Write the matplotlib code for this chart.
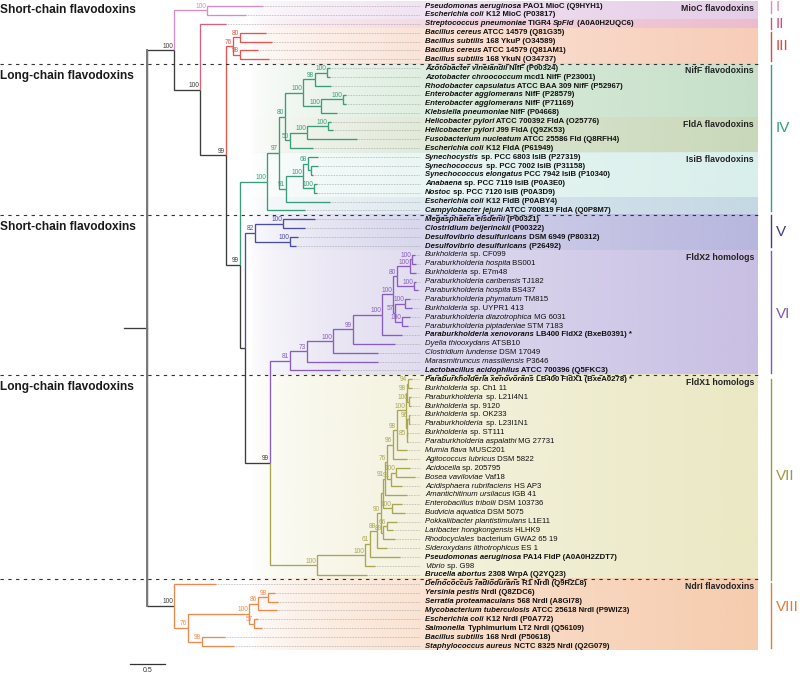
import numpy as np
import matplotlib.pyplot as plt
from matplotlib.colors import to_rgb

plt.rcParams['font.family'] = ['Liberation Sans', 'DejaVu Sans']

# ---- tree (newick, branch lengths in substitutions/site, bootstrap as node names)
MIOC = "(1:0.8,2:0.557)100:0.471"
GRP3 = "((4:0.371,5:0.457)80:0.1,(6:0.257,7:0.414)98:0.1)76:0.1"
NIFF = ("(((8:0.043,9:0.043)100:0.171,10:0.229)98:0.171,"
        "((11:0.043,12:0.043)100:0.314,13:0.229)100:0.257)100:0.257")
FLDA = "(((14:0.043,15:0.071)100:0.3,16:0.714)100:0.243,17:0.329)50:0.071"
ISIB = ("(((18:0.143,(19:0.1,20:0.029):0.043)68:0.071,"
        "(21:0.043,22:0.043)100:0.157)100:0.243,23:0.629)91:0.1")
GRP4 = "((" + NIFF + "," + FLDA + ")80:0.086," + ISIB + ")97:0.171"
GRP4 = "(" + GRP4 + ",24:0.543)100:0.386"
GRP5 = "((25:0.457,26:0.314)100:0.4,(27:0.114,28:0.086)100:0.5)82:0.143"
BURK = ("((((29:0.043,30:0.057)100:0.029,31:0.086)100:0.186,"
        "(32:0.029,33:0.057)100:0.243)80:0.057,"
        "((34:0.071,35:0.1)100:0.143,(36:0.114,37:0.086)100:0.1)57:0.029)100:0.157")
GRP6 = ("(((((" + BURK + ",38:0.286)100:0.414,39:0.6)99:0.286,40:0.643)100:0.371,"
        "41:1.014)73:0.243,42:0.714)81:0.286")
TOP7 = ("(((43:0.057,44:0.057)94:0.014,(45:0.029,46:0.029)100:0.029)98:0.014,"
        "((47:0.014,48:0.014)96:0.029,(49:0.014,50:0.014)85:0.007):0.014)100:0.129")
MID7 = ("(((" + TOP7 + ",51:0.143)98:0.057,52:0.2)96:0.086,"
        "((53:0.2,54:0.271)100:0.071,55:0.157)91:0.057)76:0.029")
LOW7 = "((59:0.143,60:0.086)66:0.057,61:0.171)89:0.029"
GRP7 = ("(((((" + MID7 + ",56:0.314)91:0.029,(57:0.143,58:0.186)100:0.129):0.029,"
        + LOW7 + ")90:0.057,62:0.143)88:0.1,63:0.429)61:0.071")
GRP7 = "((" + GRP7 + ",64:0.143)100:0.686,65:0.714)100:0.671"
GRP8 = ("(66:0.6,((((67:0.1,68:0.143)98:0.143,69:0.271)86:0.129,"
        "(70:0.057,71:0.114)57:0.071)100:0.871,(72:0.329,73:0.457)98:0.2)76:0.2)100:0.386")
TREE = ("((" + MIOC + ",(3:0.371,(" + GRP3 + ",(" + GRP4 + ",(" + GRP5 + ",(" + GRP6 + ","
        + GRP7 + ")99:0.357):0.071)99:0.2)99:0.371)100:0.371)100:0.386," + GRP8 + "):0.329;")

# leaf labels, _..._ = italic
LEAVES = [
    "_Pseudomonas aeruginosa_ PAO1 MioC (Q9HYH1)",
    "_Escherichia coli_ K12 MioC (P03817)",
    "_Streptococcus pneumoniae_ TIGR4 _SpFld_ (A0A0H2UQC6)",
    "_Bacillus cereus_ ATCC 14579 (Q81G35)",
    "_Bacillus subtilis_ 168 YkuP (O34589)",
    "_Bacillus cereus_ ATCC 14579 (Q81AM1)",
    "_Bacillus subtilis_ 168 YkuN (O34737)",
    "_Azotobacter vinelandii_ NifF (P00324)",
    "_Azotobacter chroococcum_ mcd1 NifF (P23001)",
    "_Rhodobacter capsulatus_ ATCC BAA 309 NifF (P52967)",
    "_Enterobacter agglomerans_ NifF (P28579)",
    "_Enterobacter agglomerans_ NifF (P71169)",
    "_Klebsiella pneumoniae_ NifF (P04668)",
    "_Helicobacter pylori_ ATCC 700392 FldA (O25776)",
    "_Helicobacter pylori_ J99 FldA (Q9ZK53)",
    "_Fusobacterium nucleatum_ ATCC 25586 Fld (Q8RFH4)",
    "_Escherichia coli_ K12 FldA (P61949)",
    "_Synechocystis_ sp. PCC 6803 IsiB (P27319)",
    "_Synechococcus_ sp. PCC 7002 IsiB (P31158)",
    "_Synechococcus elongatus_ PCC 7942 IsiB (P10340)",
    "_Anabaena_ sp. PCC 7119 IsiB (P0A3E0)",
    "_Nostoc_ sp. PCC 7120 IsiB (P0A3D9)",
    "_Escherichia coli_ K12 FldB (P0ABY4)",
    "_Campylobacter jejuni_ ATCC 700819 FldA (Q0P8M7)",
    "_Megasphaera elsdenii_ (P00321)",
    "_Clostridium beijerinckii_ (P00322)",
    "_Desulfovibrio desulfuricans_ DSM 6949 (P80312)",
    "_Desulfovibrio desulfuricans_ (P26492)",
    "_Burkholderia_ sp. CF099",
    "_Paraburkholderia hospita_ BS001",
    "_Burkholderia_ sp. E7m48",
    "_Paraburkholderia caribensis_ TJ182",
    "_Paraburkholderia hospita_ BS437",
    "_Paraburkholderia phymatum_ TM815",
    "_Burkholderia_ sp. UYPR1 413",
    "_Paraburkholderia diazotrophica_ MG 6031",
    "_Paraburkholderia piptadeniae_ STM 7183",
    "_Paraburkholderia xenovorans_ LB400 FldX2 (BxeB0391) *",
    "_Dyella thiooxydans_ ATSB10",
    "_Clostridium lundense_ DSM 17049",
    "_Marasmitruncus massiliensis_ P3646",
    "_Lactobacillus acidophilus_ ATCC 700396 (Q5FKC3)",
    "_Paraburkholderia xenovorans_ LB400 FldX1 (BxeA0278) *",
    "_Burkholderia_ sp. Ch1 11",
    "_Paraburkholderia_ sp. L21I4N1",
    "_Burkholderia_ sp. 9120",
    "_Burkholderia_ sp. OK233",
    "_Paraburkholderia_ sp. L23I1N1",
    "_Burkholderia_ sp. ST111",
    "_Paraburkholderia aspalathi_ MG 27731",
    "_Mumia flava_ MUSC201",
    "_Agitococcus lubricus_ DSM 5822",
    "_Acidocella_ sp. 205795",
    "_Bosea vaviloviae_ Vaf18",
    "_Acidisphaera rubrifaciens_ HS AP3",
    "_Amantichitinum ursilacus_ IGB 41",
    "_Enterobacillus tribolii_ DSM 103736",
    "_Budvicia aquatica_ DSM 5075",
    "_Pokkaliibacter plantistimulans_ L1E11",
    "_Laribacter hongkongensis_ HLHK9",
    "_Rhodocyclales_ bacterium GWA2 65 19",
    "_Sideroxydans lithotrophicus_ ES 1",
    "_Pseudomonas aeruginosa_ PA14 FldP (A0A0H2ZDT7)",
    "_Vibrio_ sp. G98",
    "_Brucella abortus_ 2308 WrpA (Q2YQ23)",
    "_Deinococcus radiodurans_ R1 NrdI (Q9RZL8)",
    "_Yersinia pestis_ NrdI (Q8ZDC6)",
    "_Serratia proteamaculans_ 568 NrdI (A8GI78)",
    "_Mycobacterium tuberculosis_ ATCC 25618 NrdI (P9WIZ3)",
    "_Escherichia coli_ K12 NrdI (P0A772)",
    "_Salmonella_ Typhimurium LT2 NrdI (Q56109)",
    "_Bacillus subtilis_ 168 NrdI (P50618)",
    "_Staphylococcus aureus_ NCTC 8325 NrdI (Q2G079)",
]
NOT_BOLD = list(range(29, 38)) + [39, 40, 41] + list(range(44, 63)) + [64]

# groups I-VIII (leaf ranges, 1-based)
GROUPS = ['I', 'II', 'III', 'IV', 'V', 'VI', 'VII', 'VIII']
GROUP_LEAVES = [(1, 2), (3, 3), (4, 7), (8, 24), (25, 28), (29, 42), (43, 65), (66, 73)]
TREE_COLORS = ['#d88cc6', '#d5607f', '#e2554c', '#3a9c78', '#4b4ba0', '#8a5cc0', '#aaa552', '#ea8a4e']
NUM_COLORS = ['#d98cc4', '#d24f7c', '#e0463e', '#32a07a', '#3b3b8c', '#7f58b4', '#9c9a40', '#e5783c']
BACKBONE = '#3c3c3c'

# shaded boxes
PANEL_LEAVES = [(1, 2), (3, 3), (4, 7), (8, 13), (14, 17), (18, 22), (23, 24),
                (25, 28), (29, 42), (43, 65), (66, 73)]
PANEL_COLORS = ['#e6cde8', '#ecbccd', '#f7cdb8', '#c6e0c8', '#c9d8b9', '#d9efeb',
                '#c5d8e4', '#b7b6de', '#c8bfe3', '#ebe8c4', '#f6ccae']
PANEL_TITLES = ['MioC flavodoxins', '', '', 'NifF flavodoxins', 'FldA flavodoxins',
                'IsiB flavodoxins', '', '', 'FldX2 homologs', 'FldX1 homologs', 'NdrI flavodoxins']

CHAIN_TITLES = ['Short-chain flavodoxins', 'Long-chain flavodoxins',
                'Short-chain flavodoxins', 'Long-chain flavodoxins']
SEPARATORS = [7, 24, 42, 65]  # dashed line below these leaves

# ---- layout constants (pixels of the 800x673 figure)
W, H = 800, 673
PX_UNIT = 70.0            # 1 substitution/site
ROOT_PX = 124
ROW0, ROWH = 6.0, 8.889
LEADER_END, TEXT_X = 420, 425
GRAD_L, PANEL_R = 250, 758
BAR_X, NUM_X = 771, 776
NUM_Y = [7, 24, 46, 128, 232, 314, 476, 607]
BAR_Y = [(1, 13), (18, 29), (32, 61), (65, 211), (215, 247), (251, 373), (379, 580), (583, 648)]


def px(x):
    return (x - ROOT_PX) / PX_UNIT


def row(y):
    return (y - ROW0) / ROWH


def parse(s):
    pos = 0

    def node():
        nonlocal pos
        n = {'children': [], 'name': '', 'len': 0.0}
        if s[pos] == '(':
            pos += 1
            n['children'].append(node())
            while s[pos] == ',':
                pos += 1
                n['children'].append(node())
            pos += 1
        start = pos
        while s[pos] not in ':,);':
            pos += 1
        n['name'] = s[start:pos]
        if s[pos] == ':':
            pos += 1
            start = pos
            while s[pos] not in ',);':
                pos += 1
            n['len'] = float(s[start:pos])
        return n
    return node()


def layout(n, x0):
    n['x'] = x0 + n['len']
    if n['children']:
        for c in n['children']:
            layout(c, n['x'])
        n['y'] = np.mean([c['y'] for c in n['children']])
        n['leaves'] = sum((c['leaves'] for c in n['children']), [])
    else:
        n['y'] = int(n['name']) - 1
        n['leaves'] = [int(n['name'])]


def color_of(n):
    lo, hi = min(n['leaves']), max(n['leaves'])
    for (a, b), c in zip(GROUP_LEAVES, TREE_COLORS):
        if a <= lo and hi <= b:
            return c
    return BACKBONE


root = parse(TREE)
root['len'] = 0.0
layout(root, 23 / PX_UNIT)

fig = plt.figure(figsize=(8, 6.73), dpi=100)
ax = fig.add_axes([0, 0, 1, 1])

# gradient boxes
xs = np.linspace(GRAD_L, PANEL_R, 300)
ramp = np.clip((xs - GRAD_L) / (PANEL_R - GRAD_L), 0, 1) ** 0.55
for (a, b), c, t in zip(PANEL_LEAVES, PANEL_COLORS, PANEL_TITLES):
    img = np.zeros((1, len(xs), 4))
    img[..., :3] = to_rgb(c)
    img[..., 3] = ramp
    ax.imshow(img, extent=[px(GRAD_L), px(PANEL_R), b - 0.5, a - 1.5],
              aspect='auto', interpolation='bilinear', zorder=0)
    if t:
        ax.text(px(PANEL_R - 4), a - 1.5 + 0.8, t, ha='right', va='center',
                fontsize=6.3, fontweight='bold', color='#222222', zorder=5)

# dashed separators and chain titles
for s in SEPARATORS:
    ax.plot([px(0), px(PANEL_R)], [s - 0.5, s - 0.5], color='#333333', lw=0.8,
            ls=(0, (3, 4)), zorder=4)
chain_rows = [0.45] + [s - 0.5 + 1.4 for s in SEPARATORS[:3]]
for t, r in zip(CHAIN_TITLES, chain_rows):
    ax.text(px(0), r, t, ha='left', va='center', fontsize=8.6, fontweight='bold',
            color='#1a1a1a')


# tree
def draw(n, is_root=False):
    for c in n['children']:
        col = BACKBONE if is_root else color_of(c)
        ax.plot([n['x'], n['x'], c['x']], [n['y'], c['y'], c['y']], color=col,
                lw=0.95, solid_capstyle='butt', solid_joinstyle='miter', zorder=3)
        if c['children'] and c['name']:
            ax.annotate(c['name'], (c['x'], c['y']), xytext=(-0.7, 0.3),
                        textcoords='offset points', ha='right', va='bottom',
                        fontsize=4.7, color=col, zorder=6)
        draw(c)
    if not n['children']:
        ax.plot([n['x'], px(LEADER_END)], [n['y'], n['y']], color='#9a9a9a', lw=0.5,
                ls=(0, (1, 1.3)), zorder=2)


ax.plot([0, root['x']], [root['y'], root['y']], color=BACKBONE, lw=0.95, zorder=3)
draw(root, is_root=True)
ys = [c['y'] for c in root['children']]
ax.plot([root['x'], root['x']], [min(ys), max(ys)], color='#7a7a7a', lw=1.4, zorder=3.5)

# leaf labels with mixed italic / roman parts
for i, lab in enumerate(LEAVES):
    bold = 'normal' if (i + 1) in NOT_BOLD else 'bold'
    prev = None
    for k, part in enumerate(lab.split('_')):
        if not part:
            continue
        kw = dict(fontsize=5.6, fontweight=bold, color='#111111', zorder=6,
                  fontstyle='italic' if k % 2 else 'normal')
        if prev is None:
            prev = ax.text(px(TEXT_X), i, part, ha='left', va='center', **kw)
        else:
            prev = ax.annotate(part, xy=(1, 0), xycoords=prev, ha='left', va='bottom', **kw)

# group bars and numerals
for g, (b0, b1), yn, c in zip(GROUPS, BAR_Y, NUM_Y, NUM_COLORS):
    ax.plot([px(BAR_X), px(BAR_X)], [row(b0), row(b1)], color=c, lw=1.0)
    ax.text(px(NUM_X), row(yn), g, ha='left', va='center', fontsize=11, color=c)

# scale bar
sb0 = px(130)
ax.plot([sb0, sb0 + 0.5], [74.0, 74.0], color='#333333', lw=0.9)
ax.text(sb0 + 0.25, 74.75, '0.5', ha='center', va='center', fontsize=5, color='#333333')

ax.set_xlim(px(0), px(W))
ax.set_ylim(row(H), row(0))
ax.axis('off')
fig.savefig('out.png', dpi=100)
